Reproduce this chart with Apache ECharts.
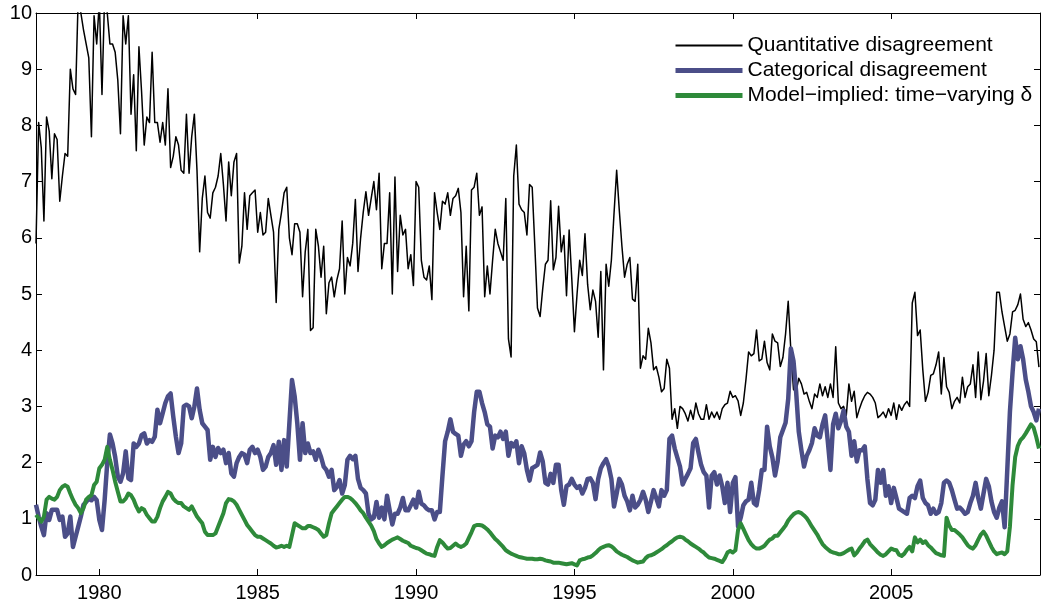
<!DOCTYPE html>
<html><head><meta charset="utf-8">
<script src="https://cdn.jsdelivr.net/npm/echarts@6/dist/echarts.min.js"></script>
<style>html,body{margin:0;padding:0;background:#fff}#c{width:1041px;height:606px}</style>
</head><body><div id="c"></div>
<script>
const startYear = 1978;
const seriesNames = ['Quantitative disagreement', 'Categorical disagreement', 'Model\u2212implied: time\u2212varying \u03b4'];
const tickYears = [1980, 1985, 1990, 1995, 2000, 2005];

const quantitative = [
 5.9, 8.05, 7.6, 6.3, 8.15, 7.9, 7.05, 7.85, 7.75, 6.65, 7.1, 7.5,
 7.45, 9.0, 8.65, 8.55, 10.3, 10.0, 9.7, 9.45, 9.2, 7.8, 9.95, 9.45,
 10.2, 8.55, 10.3, 10.0, 9.45, 9.45, 9.3, 8.8, 7.85, 9.95, 9.45, 9.95,
 8.2, 8.9, 7.55, 9.4, 8.6, 7.65, 8.15, 8.05, 9.3, 8.05, 8.05, 7.7,
 8.05, 7.65, 8.65, 7.25, 7.45, 7.8, 7.65, 7.2, 7.15, 8.2, 7.15, 7.8,
 8.2, 7.2, 5.75, 6.7, 7.1, 6.45, 6.35, 6.8, 6.9, 7.1, 7.5, 6.95,
 6.3, 7.35, 6.75, 7.35, 7.5, 5.55, 5.85, 6.8, 6.15, 6.75, 6.8, 6.85,
 6.1, 6.45, 6.05, 6.1, 6.7, 6.4, 6.1, 4.85, 6.15, 6.45, 6.8, 6.9,
 6.0, 5.7, 6.25, 6.25, 6.1, 4.95, 5.75, 6.15, 4.35, 4.4, 6.15, 5.85,
 5.3, 5.85, 4.65, 5.2, 5.3, 4.95, 5.25, 5.45, 6.3, 5.0, 5.65, 5.5,
 5.9, 6.68, 5.4, 6.0, 6.46, 6.82, 6.4, 6.7, 7.0, 6.5, 7.15, 5.45,
 5.9, 5.9, 6.8, 5.0, 7.08, 5.4, 6.4, 6.05, 6.15, 5.45, 5.7, 5.15,
 7.0, 6.9, 5.6, 5.3, 5.25, 5.5, 4.9, 6.8, 6.45, 6.15, 6.65, 6.6,
 6.8, 6.4, 6.7, 6.75, 6.88, 6.45, 4.95, 5.85, 4.7, 6.85, 6.9, 7.15,
 6.4, 6.55, 4.95, 5.5, 5.0, 5.6, 6.15, 5.9, 5.75, 5.6, 6.7, 4.2,
 3.88, 7.1, 7.65, 6.6, 6.5, 6.45, 6.05, 6.95, 6.9, 5.85, 4.75, 4.6,
 5.1, 5.53, 5.6, 6.66, 5.43, 5.65, 6.56, 5.75, 6.04, 4.97, 6.14, 5.27,
 4.33, 5.0, 5.6, 5.33, 6.07, 5.17, 4.72, 5.07, 4.87, 4.23, 5.4, 3.65,
 5.53, 5.14, 5.6, 6.43, 7.2, 6.49, 5.85, 5.3, 5.53, 5.65, 4.91, 4.87,
 5.53, 3.68, 3.9, 3.84, 4.39, 4.13, 3.65, 3.71, 3.52, 3.26, 3.32, 3.84,
 3.68, 2.77, 2.96, 2.61, 3.0, 2.96, 2.87, 2.74, 2.93, 2.77, 3.06, 2.87,
 2.77, 2.77, 3.03, 2.77, 2.9, 2.8, 2.9, 2.77, 2.96, 3.03, 3.06, 3.27,
 3.16, 3.19, 3.1, 2.84, 3.06, 3.48, 3.97, 3.9, 3.94, 4.36, 3.81, 3.84,
 4.16, 3.78, 3.65, 4.29, 4.16, 4.13, 3.71, 3.87, 4.29, 4.87, 4.0, 3.3,
 3.27, 3.5, 3.4, 3.22, 3.25, 3.09, 2.96, 3.22, 3.16, 3.4, 3.19, 3.35,
 3.16, 3.4, 3.16, 4.06, 3.06, 2.96, 3.0, 2.84, 3.4, 3.09, 3.27, 2.8,
 2.96, 3.09, 3.19, 3.25, 3.22, 3.16, 3.06, 2.8, 2.84, 2.9, 2.8, 2.96,
 2.84, 3.06, 2.77, 3.03, 2.93, 3.03, 3.09, 3.0, 4.84, 5.03, 4.26, 4.36,
 3.65, 3.09, 3.25, 3.55, 3.58, 3.74, 3.97, 3.22, 3.87, 3.35, 3.25, 2.96,
 3.09, 3.16, 3.06, 3.52, 3.16, 3.35, 3.4, 3.74, 3.16, 3.97, 3.12, 3.45,
 3.94, 3.19, 3.55, 4.0, 5.03, 5.03, 4.68, 4.42, 4.16, 4.29, 4.68, 4.71,
 4.81, 5.0, 4.55, 4.42, 4.49, 4.36, 4.2, 4.15, 3.7
];

const categorical = [
 1.25, 1.04, 0.86, 0.71, 1.1, 0.98, 1.16, 1.16, 1.16, 0.98, 1.04, 0.68,
 0.74, 1.04, 0.5, 0.68, 0.86, 1.04, 1.25, 1.3, 1.36, 1.33, 1.39, 1.33,
 0.98, 0.8, 1.33, 2.0, 2.5, 2.34, 2.1, 1.75, 1.66, 1.81, 2.2, 1.72,
 1.69, 2.34, 2.28, 2.34, 2.49, 2.52, 2.34, 2.4, 2.37, 2.46, 2.94, 2.7,
 2.88, 3.06, 3.18, 3.23, 2.82, 2.46, 2.17, 2.34, 3.0, 3.03, 3.0, 2.79,
 3.0, 3.32, 2.94, 2.7, 2.64, 2.58, 2.05, 2.28, 2.1, 2.26, 2.17, 2.23,
 1.99, 2.17, 1.81, 1.75, 1.99, 2.1, 2.17, 2.14, 1.99, 2.23, 2.28, 2.17,
 2.23, 2.1, 1.87, 1.93, 2.1, 2.17, 2.31, 1.96, 2.37, 1.87, 2.4, 1.93,
 2.7, 3.47, 3.18, 2.7, 2.05, 2.7, 2.17, 2.34, 2.17, 2.2, 2.05, 2.23,
 2.1, 1.93, 1.87, 1.75, 1.87, 1.51, 1.57, 1.69, 1.45, 1.6, 2.05, 2.12,
 2.06, 2.12, 1.71, 1.55, 1.51, 1.45, 1.09, 0.99, 1.02, 1.3, 1.02, 1.2,
 0.99, 1.41, 1.15, 0.9, 1.09, 1.09, 1.2, 1.37, 1.15, 1.15, 1.24, 1.34,
 1.2, 1.48, 1.27, 1.24, 1.18, 1.15, 1.15, 0.99, 1.12, 1.12, 1.77, 2.38,
 2.55, 2.77, 2.55, 2.51, 2.48, 2.12, 2.32, 2.38, 2.29, 2.38, 2.9, 3.26,
 3.26, 3.06, 2.9, 2.68, 2.64, 2.25, 2.48, 2.45, 2.55, 2.42, 2.55, 2.12,
 2.35, 2.29, 2.38, 1.99, 2.29, 2.16, 1.87, 1.68, 1.9, 1.93, 1.96, 2.18,
 2.02, 1.64, 1.61, 1.8, 1.64, 1.96, 1.96, 1.51, 1.25, 1.58, 1.61, 1.71,
 1.61, 1.55, 1.58, 1.45, 1.55, 1.71, 1.72, 1.64, 1.35, 1.71, 1.9, 1.99,
 2.06, 1.93, 1.71, 1.22, 1.45, 1.71, 1.61, 1.41, 1.31, 1.15, 1.41, 1.2,
 1.25, 1.34, 1.48, 1.34, 1.12, 1.31, 1.51, 1.37, 1.22, 1.51, 1.41, 1.51,
 2.42, 2.48, 2.25, 2.09, 1.93, 1.61, 1.71, 1.8, 1.9, 2.35, 2.42, 2.18,
 1.96, 1.83, 1.77, 1.2, 1.77, 1.83, 1.61, 1.77, 1.58, 1.28, 1.64, 1.12,
 1.64, 1.74, 0.86, 1.02, 1.24, 1.31, 1.34, 1.64, 1.28, 1.24, 1.51, 1.87,
 1.87, 2.64, 2.29, 2.09, 1.77, 2.02, 2.45, 2.58, 2.71, 3.13, 4.03, 3.81,
 3.26, 2.55, 2.22, 1.93, 2.12, 2.22, 2.35, 2.61, 2.48, 2.45, 2.68, 2.84,
 2.38, 1.87, 2.68, 2.87, 2.61, 2.74, 2.93, 2.64, 2.55, 2.12, 2.38, 2.02,
 2.22, 2.22, 2.29, 1.71, 1.28, 1.24, 1.34, 1.87, 1.64, 1.87, 1.41, 1.58,
 1.28, 1.55, 1.37, 1.18, 1.15, 1.12, 1.09, 1.37, 1.41, 1.37, 1.58, 1.68,
 1.37, 1.28, 1.24, 1.09, 1.18, 1.09, 1.12, 1.28, 1.64, 1.68, 1.64, 1.51,
 1.34, 1.18, 1.2, 1.15, 1.09, 1.12, 1.28, 1.41, 1.64, 1.37, 1.18, 1.45,
 1.71, 1.58, 1.31, 1.12, 1.02, 1.2, 1.31, 0.85, 1.87, 2.9, 3.6, 4.22,
 3.84, 4.07, 3.84, 3.48, 3.26, 3.0, 2.9, 2.75, 2.96
];

const modelImplied = [
 1.07, 1.01, 0.95, 1.04, 1.34, 1.39, 1.36, 1.34, 1.39, 1.51, 1.57, 1.6,
 1.57, 1.45, 1.34, 1.25, 1.19, 1.1, 1.19, 1.34, 1.39, 1.42, 1.6, 1.66,
 1.9, 1.96, 2.05, 2.28, 2.05, 1.87, 1.66, 1.48, 1.31, 1.31, 1.36, 1.45,
 1.42, 1.34, 1.22, 1.13, 1.19, 1.16, 1.07, 1.01, 0.95, 0.95, 1.04, 1.19,
 1.31, 1.39, 1.48, 1.45, 1.36, 1.31, 1.28, 1.28, 1.22, 1.19, 1.16, 1.22,
 1.13, 1.04, 0.98, 0.92, 0.77, 0.71, 0.71, 0.71, 0.74, 0.86, 0.98, 1.1,
 1.28, 1.35, 1.34, 1.31, 1.25, 1.16, 1.07, 0.98, 0.89, 0.83, 0.77, 0.71,
 0.68, 0.68, 0.65, 0.62, 0.59, 0.56, 0.52, 0.49, 0.5, 0.52, 0.5, 0.52,
 0.5, 0.71, 0.92, 0.89, 0.86, 0.83, 0.83, 0.87, 0.87, 0.85, 0.83, 0.8,
 0.74, 0.68, 0.71, 0.92, 1.1, 1.16, 1.22, 1.28, 1.34, 1.39, 1.39, 1.37,
 1.33, 1.28, 1.22, 1.15, 1.1, 1.02, 0.95, 0.88, 0.78, 0.64, 0.56, 0.5,
 0.53, 0.57, 0.6, 0.63, 0.65, 0.67, 0.64, 0.61, 0.59, 0.57, 0.52, 0.5,
 0.48, 0.47, 0.44, 0.41, 0.38, 0.37, 0.35, 0.34, 0.5, 0.62, 0.58, 0.52,
 0.47, 0.48, 0.52, 0.56, 0.52, 0.5, 0.52, 0.56, 0.66, 0.76, 0.87, 0.89,
 0.89, 0.88, 0.85, 0.81, 0.76, 0.7, 0.64, 0.6, 0.55, 0.5, 0.44, 0.41,
 0.38, 0.36, 0.34, 0.32, 0.31, 0.3, 0.29, 0.29, 0.29, 0.28, 0.28, 0.29,
 0.28, 0.26, 0.25, 0.24, 0.22, 0.22, 0.22, 0.21, 0.2, 0.19, 0.2, 0.21,
 0.19, 0.17, 0.26, 0.28, 0.29, 0.31, 0.32, 0.35, 0.39, 0.44, 0.48, 0.5,
 0.52, 0.53, 0.51, 0.47, 0.42, 0.39, 0.36, 0.34, 0.32, 0.29, 0.26, 0.24,
 0.22, 0.23, 0.24, 0.3, 0.34, 0.35, 0.37, 0.4, 0.43, 0.46, 0.5, 0.53,
 0.57, 0.6, 0.64, 0.67, 0.68, 0.67, 0.63, 0.6, 0.56, 0.53, 0.5, 0.47,
 0.43, 0.4, 0.35, 0.31, 0.3, 0.29, 0.27, 0.25, 0.23, 0.3, 0.4, 0.43,
 0.4, 0.44, 0.8, 0.92, 0.82, 0.72, 0.62, 0.55, 0.5, 0.47, 0.47, 0.49,
 0.52, 0.58, 0.63, 0.65, 0.7, 0.7, 0.76, 0.82, 0.88, 0.97, 1.03, 1.08,
 1.11, 1.12, 1.1, 1.06, 1.01, 0.94, 0.86, 0.79, 0.72, 0.63, 0.55, 0.5,
 0.46, 0.42, 0.4, 0.39, 0.37, 0.37, 0.39, 0.42, 0.45, 0.47, 0.35, 0.4,
 0.47, 0.53, 0.6, 0.63, 0.55, 0.5, 0.45, 0.4, 0.36, 0.34, 0.37, 0.42,
 0.47, 0.45, 0.44, 0.36, 0.34, 0.38, 0.45, 0.5, 0.42, 0.67, 0.58, 0.63,
 0.57, 0.6, 0.53, 0.49, 0.44, 0.39, 0.37, 0.35, 0.34, 1.02, 0.88, 0.8,
 0.8, 0.76, 0.72, 0.67, 0.6, 0.53, 0.49, 0.47, 0.53, 0.63, 0.72, 0.77,
 0.7, 0.6, 0.5, 0.42, 0.37, 0.39, 0.4, 0.37, 0.42, 0.86, 1.6, 2.1,
 2.3, 2.4, 2.45, 2.52, 2.6, 2.68, 2.62, 2.45, 2.25
];

function toPairs(arr) { return arr.map(function (v, i) { return [startYear + i / 12, v]; }); }

const FONT = 'Liberation Sans';
const colors = ['#000000', '#4b4e88', '#2e8a3a'];
const widths = [1.5, 4.5, 4];

const chart = echarts.init(document.getElementById('c'), null, {renderer: 'canvas'});
const xCommon = {
  type: 'value', min: 1978, max: 2009.7,
  axisLine: {show: true, onZero: false, lineStyle: {color: '#000', width: 1}},
  splitLine: {show: false}
};
const yCommon = {
  type: 'value', min: 0, max: 10, interval: 1,
  axisLine: {show: true, onZero: false, lineStyle: {color: '#000', width: 1}},
  splitLine: {show: false}
};
chart.setOption({
  animation: false,
  backgroundColor: '#fff',
  grid: {left: 36, right: 1, top: 13, bottom: 31, containLabel: false},
  legend: {
    orient: 'vertical', left: 668, top: 30, padding: 5,
    itemWidth: 67, itemHeight: 14, itemGap: 4,
    textStyle: {fontFamily: FONT, fontSize: 21, color: '#000', lineHeight: 20},
    data: seriesNames.map(function (n, i) {
      return {
        name: n,
        itemStyle: {color: 'rgba(0,0,0,0)', borderWidth: 0, opacity: 0},
        lineStyle: {color: colors[i], width: i === 0 ? 2 : 5, opacity: 1}
      };
    })
  },
  xAxis: [
    Object.assign({}, xCommon, {
      position: 'bottom',
      axisTick: {show: true, inside: true, length: 6, customValues: tickYears, lineStyle: {color: '#000'}},
      axisLabel: {show: true, customValues: tickYears, margin: 18, verticalAlign: 'middle',
        fontFamily: FONT, fontSize: 20, color: '#000',
        formatter: function (v) { return String(Math.round(v)); }}
    }),
    Object.assign({}, xCommon, {
      position: 'top',
      axisTick: {show: true, inside: true, length: 6, customValues: tickYears, lineStyle: {color: '#000'}},
      axisLabel: {show: false}
    })
  ],
  yAxis: [
    Object.assign({}, yCommon, {
      position: 'left',
      axisTick: {show: true, inside: true, length: 6, lineStyle: {color: '#000'}},
      axisLabel: {show: true, margin: 4, fontFamily: FONT, fontSize: 20, color: '#000'}
    }),
    Object.assign({}, yCommon, {
      position: 'right',
      axisTick: {show: true, inside: true, length: 6, lineStyle: {color: '#000'}},
      axisLabel: {show: false}
    })
  ],
  series: [quantitative, categorical, modelImplied].map(function (arr, i) {
    return {
      name: seriesNames[i], type: 'line', xAxisIndex: 0, yAxisIndex: 0,
      data: toPairs(arr), symbol: 'none', showSymbol: false, clip: true,
      lineStyle: {color: colors[i], width: widths[i], join: 'round'},
      itemStyle: {color: colors[i]},
      emphasis: {disabled: true}
    };
  })
});
</script>
</body></html>
